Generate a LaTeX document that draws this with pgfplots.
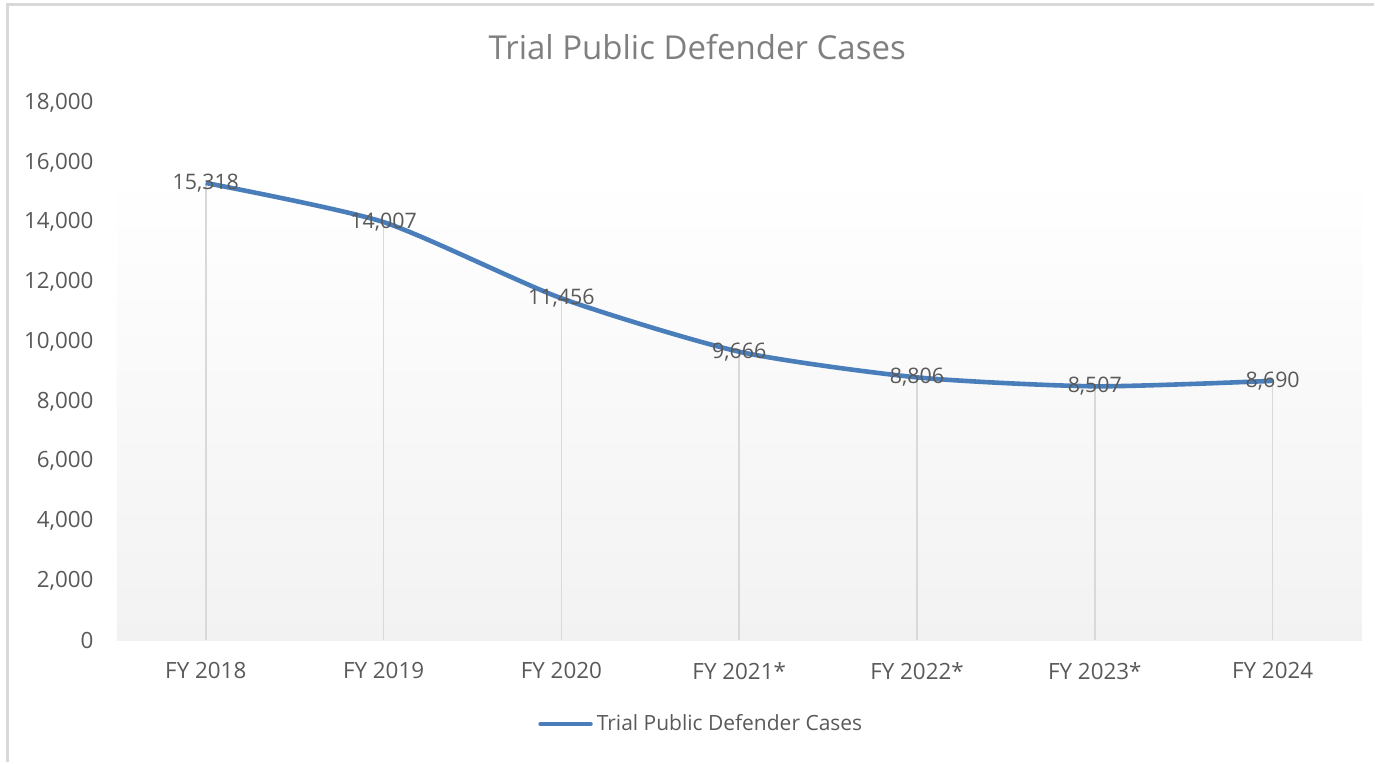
\documentclass[border=0pt]{standalone}
\usepackage{pgfplots}
\pgfplotsset{compat=1.18}
\usepackage{fontspec}
\setmainfont{Open Sans}
\definecolor{linecol}{HTML}{4A7EBB}
\definecolor{txt}{HTML}{595959}
\definecolor{ttl}{HTML}{7F7F7F}
\definecolor{gridc}{HTML}{D9D9D9}
\definecolor{bgbot}{HTML}{F2F2F2}
\begin{document}
\begin{tikzpicture}
\path (0pt,0pt) rectangle (687.5pt,381.5pt);
\draw[gridc, line width=1.5pt] (4pt,0pt) -- (4pt,379pt) -- (687.5pt,379pt);
\node[text=ttl, font=\fontsize{16.5pt}{19pt}\selectfont] at (349pt,358pt) {Trial Public Defender Cases};
\begin{axis}[
  set layers,
  at={(58.5pt,61pt)}, anchor=south west,
  scale only axis, width=623pt, height=269pt,
  xmin=-0.5, xmax=6.5, ymin=0, ymax=18000,
  xtick={0,...,6},
  xticklabels={FY 2018,FY 2019,FY 2020,FY 2021*,FY 2022*,FY 2023*,FY 2024},
  ytick={0,2000,...,18000},
  scaled y ticks=false,
  axis lines*=left,
  y axis line style={draw=none},
  x axis line style={draw=gridc, line width=1pt, -},
  major tick length=0pt,
  tick label style={text=txt, font=\fontsize{11.2pt}{13pt}\selectfont},
  /pgf/number format/assume math mode=true,
  yticklabel={\pgfmathprintnumber[1000 sep={,}, fixed, precision=0]{\tick}},
  yticklabel style={inner sep=0pt, xshift=-11.5pt},
  xticklabel style={inner sep=0pt, yshift=-11pt},
  legend style={at={(axis description cs:0.4703,-0.156)}, anchor=center, draw=none, fill=none, text=txt, font=\fontsize{10.5pt}{12pt}\selectfont, inner sep=0pt},
  legend image code/.code={\draw[linecol, line width=2.3pt, line cap=round] (0pt,0pt) -- (25pt,0pt);},
]
\shade[on layer=axis background, top color=white, bottom color=bgbot] (axis cs:-0.5,0) rectangle (axis cs:6.5,15650);
\addplot[ycomb, gridc, line width=0.8pt, forget plot] coordinates {(0,15318) (1,14007) (2,11456) (3,9666) (4,8806) (5,8507) (6,8690)};
\addplot[linecol, line width=2.3pt, smooth, tension=0.4,
  nodes near coords={\pgfmathprintnumber[1000 sep={,}, assume math mode=true]{\pgfplotspointmeta}},
  every node near coord/.style={anchor=center, text=txt, font=\fontsize{10.7pt}{12pt}\selectfont, inner sep=0pt},
] coordinates {(0,15318) (1,14007) (2,11456) (3,9666) (4,8806) (5,8507) (6,8690)};
\addlegendentry{Trial Public Defender Cases}
\end{axis}
\end{tikzpicture}
\end{document}
